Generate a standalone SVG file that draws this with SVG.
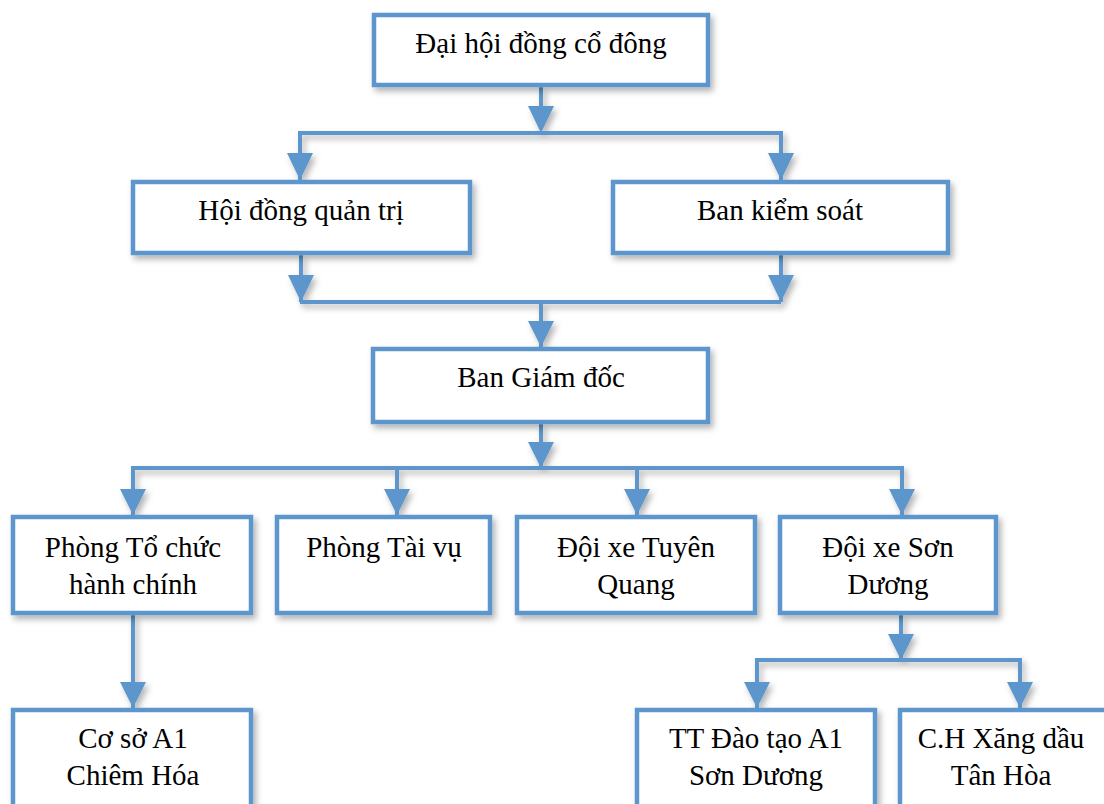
<svg xmlns="http://www.w3.org/2000/svg" width="1104" height="804" viewBox="0 0 1104 804">
<style>
.box{fill:#fff;stroke:#5B96CC;stroke-width:4.5;filter:url(#sh)}
.ln{fill:none;stroke:#5B96CC;stroke-width:4}
.ah{fill:#5B96CC}
.t{font-family:'Times New Roman','Liberation Serif','DejaVu Serif',serif;font-size:29px;fill:#000;text-anchor:middle}
</style>
<defs>
<filter id="sh" x="-10%" y="-20%" width="130%" height="150%">
<feDropShadow dx="3" dy="4" stdDeviation="3" flood-color="#000" flood-opacity="0.3"/>
</filter>
</defs>
<rect width="1104" height="804" fill="#fff"/>
<g id="connectors" filter="url(#sh)">
<path class="ln" d="M541 87V110 M300 180V133H781V180 M301 255V302 M781 255V302 M300 302H781 M541 302V347 M541 424V468 M133 515V468H902V515 M397 468V515 M637 468V515 M133 615V708 M901 615V660 M757 708V660H1020V708"/>
<polygon class="ah" points="528,106 554,106 541,133"/>
<polygon class="ah" points="287,153 313,153 300,180"/>
<polygon class="ah" points="768,153 794,153 781,180"/>
<polygon class="ah" points="288,275 314,275 301,302"/>
<polygon class="ah" points="768,275 794,275 781,302"/>
<polygon class="ah" points="528,321 554,321 541,347"/>
<polygon class="ah" points="528,442 554,442 541,468"/>
<polygon class="ah" points="120,489 146,489 133,515"/>
<polygon class="ah" points="384,489 410,489 397,515"/>
<polygon class="ah" points="624,489 650,489 637,515"/>
<polygon class="ah" points="889,489 915,489 902,515"/>
<polygon class="ah" points="120,682 146,682 133,708"/>
<polygon class="ah" points="888,634 914,634 901,660"/>
<polygon class="ah" points="744,682 770,682 757,708"/>
<polygon class="ah" points="1007,682 1033,682 1020,708"/>
</g>
<g id="n-dhdcd"><rect class="box" x="374" y="15" width="334" height="70"/><text class="t" x="541" y="53">Đại hội đồng cổ đông</text></g>
<g id="n-hdqt"><rect class="box" x="133" y="182" width="337" height="71"/><text class="t" x="301" y="220">Hội đồng quản trị</text></g>
<g id="n-bks"><rect class="box" x="613" y="182" width="335" height="71"/><text class="t" x="780" y="220">Ban kiểm soát</text></g>
<g id="n-bgd"><rect class="box" x="373" y="349" width="335" height="73"/><text class="t" x="541" y="387">Ban Giám đốc</text></g>
<g id="n-ptc"><rect class="box" x="13" y="517" width="238" height="96"/><text class="t" x="133" y="557">Phòng Tổ chức</text><text class="t" x="133" y="594">hành chính</text></g>
<g id="n-ptv"><rect class="box" x="277" y="517" width="213" height="96"/><text class="t" x="384" y="557">Phòng Tài vụ</text></g>
<g id="n-dxtq"><rect class="box" x="517" y="517" width="238" height="96"/><text class="t" x="636" y="557">Đội xe Tuyên</text><text class="t" x="636" y="594">Quang</text></g>
<g id="n-dxsd"><rect class="box" x="780" y="517" width="216" height="96"/><text class="t" x="888" y="557">Đội xe Sơn</text><text class="t" x="888" y="594">Dương</text></g>
<g id="n-csa1"><rect class="box" x="13" y="710" width="238" height="120"/><text class="t" x="133" y="748">Cơ sở A1</text><text class="t" x="133" y="785">Chiêm Hóa</text></g>
<g id="n-tt"><rect class="box" x="637" y="710" width="238" height="120"/><text class="t" x="756" y="748">TT Đào tạo A1</text><text class="t" x="756" y="785">Sơn Dương</text></g>
<g id="n-ch"><rect class="box" x="900" y="710" width="240" height="120"/><text class="t" x="1001" y="748">C.H Xăng dầu</text><text class="t" x="1001" y="785">Tân Hòa</text></g>
</svg>
